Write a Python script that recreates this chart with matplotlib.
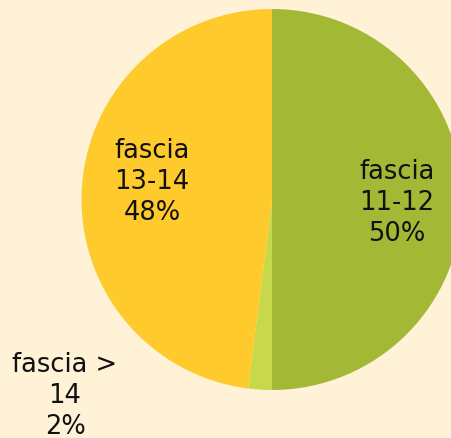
import matplotlib
matplotlib.use("Agg")
import matplotlib.pyplot as plt

# share of each band
categories = ["fascia\n11-12", "fascia >\n14", "fascia\n13-14"]
shares = [50, 2, 48]
colors = ["#A3B835", "#C8D84B", "#FFCA2C"]
bg = "#FFF2D6"

W, H = 451, 439
fig = plt.figure(figsize=(W / 100, H / 100), dpi=100, facecolor=bg)
ax = fig.add_axes([0, 0, 1, 1])
ax.set_facecolor(bg)

cx, cy, r = 272, H - 200.5, 190.5
wedges, _ = ax.pie(shares, colors=colors, startangle=90, counterclock=False,
                   center=(cx, cy), radius=r, frame=True,
                   wedgeprops=dict(linewidth=0))
ax.set_xlim(0, W)
ax.set_ylim(0, H)
ax.set_aspect("equal")
ax.axis("off")

# label positions (pixels from top-left)
label_pos = [(397, 203), (65, 396), (152, 182)]
for cat, val, (x, y) in zip(categories, shares, label_pos):
    ax.text(x, H - y, f"{cat}\n{val}%", ha="center", va="center",
            fontsize=18.5, family="DejaVu Sans", color="#111111",
            linespacing=1.27)

fig.savefig("out.png", dpi=100, facecolor=bg)
